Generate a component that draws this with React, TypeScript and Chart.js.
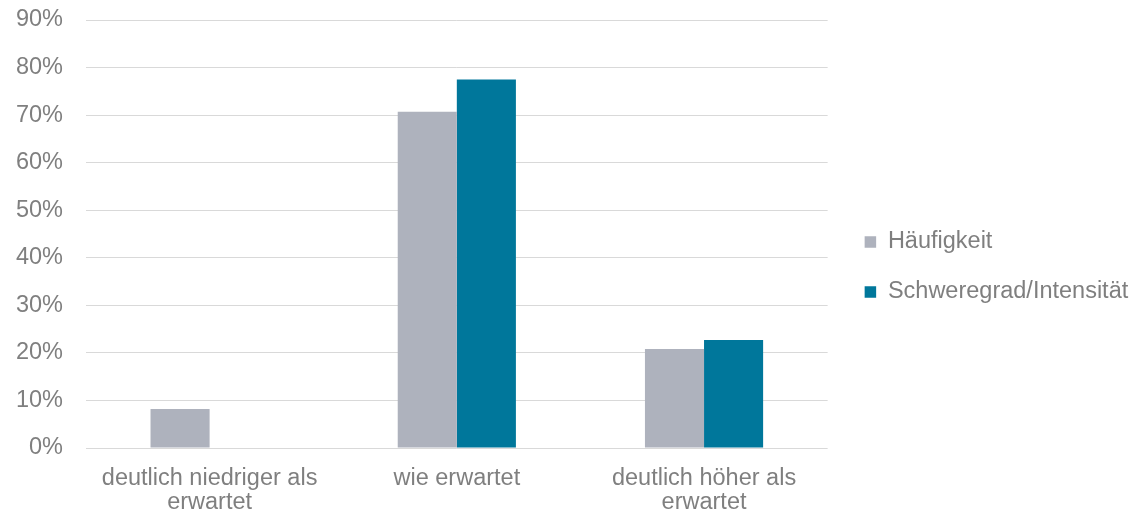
import React, { useEffect, useRef } from "react";
import { Chart, registerables } from "chart.js";

Chart.register(...registerables);

const categories: string[][] = [
  ["deutlich niedriger als", "erwartet"],
  ["wie erwartet"],
  ["deutlich höher als", "erwartet"],
];
const seriesNames = ["Häufigkeit", "Schweregrad/Intensität"];
const haeufigkeit = [8.2, 70.7, 20.8];
const schweregrad = [0, 77.5, 22.7];
const yMax = 90;
const yStep = 10;

const FONT = "'Liberation Sans', Arial, sans-serif";
const TEXT = "#7f7f7f";

export default function App() {
  const ref = useRef<HTMLCanvasElement | null>(null);
  useEffect(() => {
    if (!ref.current) return;
    const chart = new Chart(ref.current, {
      type: "bar",
      data: {
        labels: categories,
        datasets: [
          {
            label: seriesNames[0],
            data: haeufigkeit,
            backgroundColor: "#aeb2bd",
            barPercentage: 1,
            categoryPercentage: 0.478,
          },
          {
            label: seriesNames[1],
            data: schweregrad,
            backgroundColor: "#00779b",
            barPercentage: 1,
            categoryPercentage: 0.478,
          },
        ],
      },
      options: {
        animation: false,
        responsive: false,
        maintainAspectRatio: false,
        layout: { padding: { top: 20, bottom: 0, left: 0, right: -3.25 } },
        plugins: {
          tooltip: { enabled: false },
          legend: {
            position: "right",
            maxWidth: 400,
            labels: {
              boxWidth: 11.5,
              boxHeight: 11.5,
              padding: 26.5,
              color: TEXT,
              font: { family: FONT, size: 23.5 },
            },
          },
        },
        scales: {
          x: {
            grid: { display: false, drawTicks: false },
            border: { display: false },
            ticks: {
              color: TEXT,
              padding: 19,
              maxRotation: 0,
              autoSkip: false,
              font: { family: FONT, size: 23.5, lineHeight: 1.02 },
            },
            afterFit: (s: any) => {
              s.height = 66;
            },
          },
          y: {
            min: 0,
            max: yMax,
            border: { display: false },
            grid: { color: "#d9d9d9", lineWidth: 1, drawTicks: false },
            ticks: {
              stepSize: yStep,
              padding: 23,
              color: TEXT,
              font: { family: FONT, size: 23.5 },
              callback: (v: any) => `${v}%`,
            },
            afterFit: (s: any) => {
              s.width = 86;
              s.paddingTop = 12;
              s.paddingBottom = 12;
            },
          },
          y2: {
            position: "right",
            display: true,
            grid: { display: false },
            border: { display: false },
            ticks: { display: false },
            afterFit: (s: any) => {
              s.width = 10.5;
            },
          },
        },
      },
    });
    return () => chart.destroy();
  }, []);
  return (
    <div style={{ position: "absolute", left: 0, top: 0, width: 1135, height: 514 }}>
      <canvas ref={ref} width={1135} height={514} style={{ display: "block" }} />
    </div>
  );
}
